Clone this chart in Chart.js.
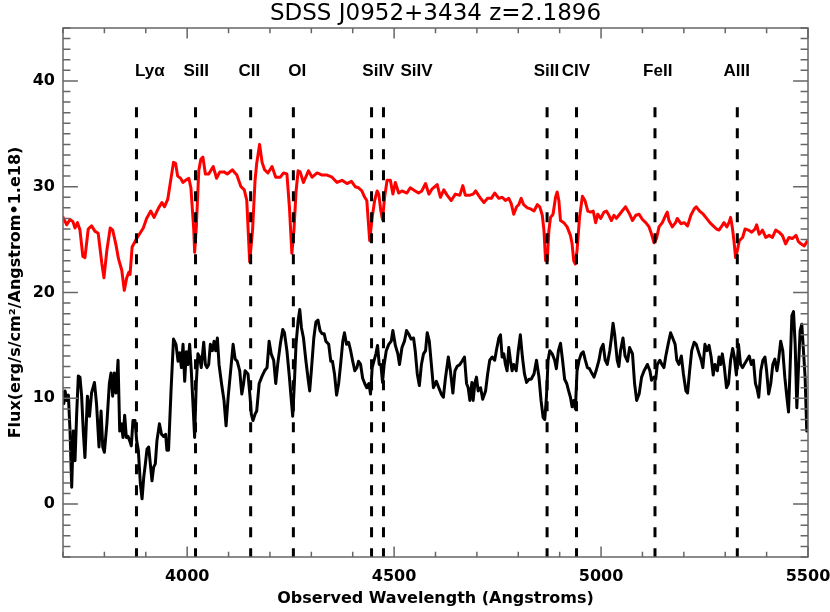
<!DOCTYPE html>
<html>
<head>
<meta charset="utf-8">
<script src="https://cdn.jsdelivr.net/npm/chart.js@4.4.0/dist/chart.umd.min.js"></script>
<style>
  html, body { margin: 0; padding: 0; background: #fff; }
  #wrap { width: 830px; height: 612px; }
</style>
</head>
<body>
<div id="wrap"><canvas id="spectrum-chart"></canvas></div>
<script>
// Espectro superior (rojo)
const redWave = [3699,3709,3717,3724,3729,3735,3741,3748,3753,3761,3769,3777,3785,3794,3799,3806,3814,3820,3828,3834,3842,3848,3854,3859,3862,3867,3878,3894,3902,3912,3920,3931,3939,3945,3953,3959,3967,3972,3977,3984,3990,3996,4004,4009,4016,4018,4022,4028,4033,4038,4044,4052,4063,4071,4079,4089,4097,4109,4120,4130,4138,4144,4151,4158,4164,4168,4175,4181,4187,4195,4205,4214,4225,4233,4241,4247,4253,4258,4263,4268,4273,4281,4293,4302,4314,4326,4338,4350,4362,4374,4386,4397,4406,4414,4422,4429,4434,4441,4447,4453,4459,4463,4468,4472,4477,4483,4491,4497,4503,4511,4519,4531,4539,4551,4559,4567,4576,4584,4592,4604,4612,4620,4628,4638,4648,4659,4666,4672,4683,4691,4697,4707,4717,4726,4735,4743,4753,4761,4769,4777,4783,4789,4796,4801,4807,4813,4822,4830,4838,4846,4852,4858,4862,4866,4870,4874,4878,4884,4890,4894,4898,4902,4910,4918,4926,4930,4934,4938,4942,4948,4955,4961,4968,4975,4981,4987,4992,4999,5007,5013,5019,5025,5031,5037,5043,5051,5059,5068,5076,5084,5092,5100,5108,5116,5122,5128,5134,5140,5148,5156,5160,5164,5172,5180,5184,5193,5201,5209,5217,5225,5230,5238,5247,5255,5263,5271,5279,5285,5292,5297,5304,5309,5313,5317,5321,5325,5330,5334,5342,5348,5356,5364,5372,5376,5382,5390,5398,5406,5414,5422,5430,5438,5446,5454,5462,5471,5477,5483,5491,5499];
const redFlux = [27.2,26.4,26.9,26.7,26.1,26.6,25.9,23.4,23.3,26.0,26.3,25.8,25.6,22.7,21.4,24.0,26.1,25.9,24.5,23.2,22.1,20.2,21.4,21.9,21.7,24.3,25.1,26.1,27.0,27.7,27.1,28.0,28.5,28.1,28.8,30.3,32.3,32.2,31.0,30.8,30.4,30.6,30.8,29.9,25.9,23.8,26.1,31.5,32.6,32.8,31.2,31.2,31.9,30.8,31.4,31.4,31.2,31.6,31.1,30.0,29.7,28.7,22.9,25.9,30.6,32.2,34.0,32.3,31.6,31.3,31.9,30.9,30.9,31.3,31.2,28.1,23.7,25.9,29.5,31.5,31.4,30.4,31.5,30.9,31.3,31.1,31.1,30.9,30.4,30.6,30.3,30.5,30.0,29.9,29.6,29.0,28.7,24.9,27.1,28.7,29.6,29.3,27.7,26.9,29.0,30.6,30.6,29.3,30.4,29.4,29.6,29.4,29.9,29.6,29.4,29.6,30.3,29.3,29.8,30.2,29.0,29.7,29.2,28.7,29.3,29.2,30.1,29.2,29.2,29.3,29.6,29.0,28.5,28.9,28.9,29.4,28.9,29.0,28.7,28.9,28.4,27.4,28.1,28.3,28.9,28.3,28.0,27.9,27.7,28.3,28.1,27.3,25.9,23.0,23.0,25.9,27.1,27.4,29.0,29.5,28.7,26.8,26.6,26.2,25.4,24.6,23.0,22.7,24.0,27.1,29.1,28.7,27.7,27.6,27.7,26.6,27.4,27.0,27.6,27.7,27.3,26.8,27.3,27.0,27.3,27.7,28.1,27.5,26.8,27.3,27.4,26.9,26.6,26.2,25.5,24.7,25.1,26.2,26.6,27.3,27.6,26.8,26.2,26.6,27.0,26.5,26.6,26.3,27.3,27.9,28.1,27.7,27.4,27.0,26.6,26.3,26.0,25.9,26.3,26.6,26.2,26.6,27.1,26.2,24.9,23.3,24.1,24.9,25.2,26.0,25.9,25.7,26.0,26.4,25.5,25.9,25.2,25.4,25.2,25.9,25.7,25.4,24.6,25.2,25.1,25.4,24.8,24.6,24.4,24.9];

// Espectro inferior (negro)
const blackWave = [3699,3702,3705,3709,3713,3717,3721,3725,3729,3733,3737,3741,3745,3749,3753,3759,3764,3769,3776,3781,3787,3792,3796,3800,3806,3812,3816,3820,3824,3828,3833,3837,3841,3845,3849,3853,3857,3861,3865,3869,3874,3878,3882,3887,3891,3895,3899,3903,3907,3911,3915,3919,3923,3927,3933,3938,3943,3948,3951,3955,3961,3967,3973,3978,3982,3986,3990,3994,3998,4002,4006,4010,4014,4018,4022,4026,4030,4034,4040,4044,4048,4052,4056,4061,4065,4069,4073,4077,4083,4089,4094,4099,4105,4111,4116,4121,4127,4132,4136,4140,4147,4152,4155,4159,4164,4168,4174,4181,4187,4193,4198,4203,4209,4214,4219,4225,4231,4235,4241,4247,4251,4255,4259,4263,4268,4272,4276,4281,4287,4292,4296,4300,4306,4311,4316,4321,4326,4331,4335,4342,4347,4351,4356,4361,4366,4371,4376,4380,4385,4390,4395,4400,4405,4410,4414,4419,4424,4429,4434,4439,4443,4447,4451,4456,4460,4464,4468,4472,4476,4481,4487,4493,4497,4503,4509,4513,4519,4525,4530,4535,4541,4547,4551,4556,4561,4566,4571,4576,4580,4585,4590,4595,4602,4608,4614,4619,4624,4631,4636,4642,4647,4652,4659,4664,4670,4675,4679,4683,4688,4691,4695,4699,4703,4709,4714,4721,4726,4731,4737,4743,4747,4753,4757,4761,4765,4769,4773,4777,4781,4785,4789,4795,4800,4805,4810,4815,4820,4826,4831,4838,4844,4850,4855,4860,4864,4868,4872,4876,4882,4888,4892,4897,4902,4907,4912,4917,4921,4926,4930,4934,4938,4942,4947,4952,4957,4962,4967,4972,4976,4983,4988,4995,5000,5005,5010,5015,5021,5025,5029,5033,5039,5043,5047,5053,5058,5064,5069,5076,5081,5086,5092,5098,5104,5112,5118,5122,5128,5132,5136,5142,5147,5152,5156,5162,5168,5174,5179,5183,5188,5194,5199,5205,5209,5214,5219,5225,5230,5237,5242,5246,5251,5256,5261,5266,5271,5275,5281,5285,5289,5293,5298,5303,5308,5313,5318,5322,5327,5332,5337,5342,5346,5352,5358,5363,5368,5373,5377,5381,5386,5391,5396,5400,5405,5410,5415,5420,5425,5429,5434,5439,5444,5449,5453,5457,5461,5465,5469,5473,5477,5481,5485,5489,5493,5497,5499];
const blackFlux = [10.7,9.5,10.7,9.8,10.3,6.9,1.6,6.9,4.1,8.5,12.1,12.0,10.2,6.9,4.4,10.2,8.3,10.5,11.5,9.5,5.4,8.8,5.4,4.9,7.6,11.4,12.4,10.2,12.4,10.5,13.6,6.9,7.6,6.3,8.4,6.3,6.4,6.0,5.5,7.9,7.9,6.0,5.1,1.9,0.5,2.5,3.8,5.2,5.4,3.8,2.2,3.5,3.8,6.0,7.6,6.6,6.4,6.6,5.1,5.1,10.7,15.6,15.1,13.5,14.3,12.9,15.1,11.6,14.4,13.2,15.1,12.6,9.5,6.3,11.4,14.2,13.9,12.9,15.3,13.2,12.9,13.2,15.1,14.5,15.4,14.5,15.7,13.2,11.4,9.8,7.4,10.1,12.6,15.1,13.7,13.5,12.6,10.4,11.3,12.6,12.3,10.1,8.5,7.9,8.5,8.8,11.4,12.1,12.6,12.9,15.4,14.2,13.6,11.4,13.3,15.1,16.5,16.2,14.5,12.0,10.1,8.3,11.4,15.1,17.3,18.4,16.7,15.7,13.5,11.9,10.7,12.6,15.7,17.2,17.4,16.4,16.1,16.1,15.4,15.1,13.5,13.5,12.3,10.3,11.4,13.3,15.4,16.2,15.1,15.3,14.5,13.5,12.6,12.9,13.5,13.2,11.9,11.4,11.0,11.4,10.4,12.9,13.5,14.2,15.0,13.2,13.2,11.5,13.2,14.5,15.1,15.4,16.4,15.0,14.2,13.2,14.8,15.4,16.4,16.1,15.6,15.7,14.5,12.3,11.2,13.2,14.2,14.5,16.2,15.4,13.2,11.0,11.6,11.0,10.4,10.1,11.9,13.9,12.6,10.5,12.6,13.0,13.2,13.5,13.9,11.4,11.0,9.8,11.5,9.8,11.4,12.0,10.7,11.0,9.9,10.7,12.3,13.6,13.9,13.6,14.5,15.7,16.0,13.9,14.2,13.2,12.6,14.8,13.6,12.6,13.2,12.6,14.5,16.0,13.9,12.3,11.5,11.8,11.8,12.3,13.6,12.0,9.8,8.2,8.0,10.1,13.6,14.5,14.2,13.6,12.8,14.5,15.2,13.6,11.8,11.4,10.8,10.1,9.2,9.8,9.0,12.6,13.6,14.2,14.4,13.6,12.9,12.8,12.5,12.0,12.6,13.6,14.7,15.1,13.6,13.2,14.5,15.7,17.1,16.0,13.6,13.0,14.5,15.7,14.0,13.5,14.8,14.2,11.4,9.8,10.4,12.0,12.6,13.2,12.6,11.7,12.0,11.8,13.2,13.6,13.2,12.9,13.9,15.1,16.2,15.6,15.1,13.6,13.2,14.0,12.3,10.7,10.5,12.6,14.5,15.3,15.1,14.2,13.6,12.9,15.1,14.5,15.0,13.9,12.2,13.2,12.6,13.9,13.2,14.2,12.9,11.0,11.4,13.6,14.7,13.9,12.2,15.1,13.2,12.9,13.2,13.6,14.0,13.2,13.6,11.4,10.9,10.1,12.6,13.6,13.9,12.6,10.4,11.4,13.2,13.7,12.6,13.6,15.4,14.5,12.0,10.1,8.7,13.2,17.8,18.2,15.1,9.1,12.9,16.4,17.0,14.5,12.0,6.9,9.1];

// Líneas de absorción marcadas
const lineNames = ['Lyα', 'SiII', 'CII', 'OI', 'SiIV', 'SiIV', 'SiII', 'CIV', 'FeII', 'AlII'];
const lineWave = [3877.5, 4020.2, 4153.4, 4256.6, 4445.5, 4474.3, 4869.6, 4940.7, 5130.3, 5329.2];
const labelWave = [3910, 4022, 4150, 4266, 4462, 4554, 4868, 4939, 5137, 5328];
const labelFlux = 40.9;
const lineTop = 37.5;

const FONT = '"DejaVu Sans", sans-serif';
const LABEL_FONT = 'bold 17px "Liberation Sans", Arial, sans-serif';

// Caja estilo IDL: ejes en los cuatro lados con marcas hacia dentro, y etiquetas de líneas
const boxPlugin = {
    id: 'idlBox',
    afterDatasetsDraw(chart) {
        const { ctx, chartArea: a, scales: { x, y } } = chart;
        const w = a.right - a.left;
        const h = a.bottom - a.top;
        ctx.save();
        ctx.strokeStyle = '#666';
        ctx.lineWidth = 1.5;
        ctx.strokeRect(a.left, a.top, w, h);

        ctx.beginPath();
        x.ticks.forEach(t => {
            const px = x.getPixelForValue(t.value);
            const len = (t.value % 500 === 0 ? 0.02 : 0.01) * h;
            ctx.moveTo(px, a.bottom); ctx.lineTo(px, a.bottom - len);
            ctx.moveTo(px, a.top); ctx.lineTo(px, a.top + len);
        });
        y.ticks.forEach(t => {
            const py = y.getPixelForValue(t.value);
            const len = (t.value % 10 === 0 ? 0.02 : 0.01) * w;
            ctx.moveTo(a.left, py); ctx.lineTo(a.left + len, py);
            ctx.moveTo(a.right, py); ctx.lineTo(a.right - len, py);
        });
        ctx.stroke();

        ctx.fillStyle = '#000';
        ctx.font = LABEL_FONT;
        ctx.textAlign = 'center';
        ctx.textBaseline = 'middle';
        lineNames.forEach((name, i) => {
            ctx.fillText(name, x.getPixelForValue(labelWave[i]), y.getPixelForValue(labelFlux));
        });
        ctx.restore();
    }
};

function generarGrafica() {
    const ctx = document.getElementById('spectrum-chart').getContext('2d');

    const datasets = [
        {
            data: redWave.map((w, i) => ({ x: w, y: redFlux[i] })),
            borderColor: '#ff0000',
            borderWidth: 3,
            order: 1
        },
        {
            data: blackWave.map((w, i) => ({ x: w, y: blackFlux[i] })),
            borderColor: '#000000',
            borderWidth: 3,
            order: 1
        }
    ];

    // Líneas verticales discontinuas
    lineWave.forEach(w => {
        datasets.push({
            data: [{ x: w, y: lineTop }, { x: w, y: -5 }],
            borderColor: '#000000',
            borderWidth: 3,
            borderDash: [10, 11],
            order: 0
        });
    });

    new Chart(ctx, {
        type: 'line',
        data: { datasets: datasets },
        options: {
            responsive: true,
            maintainAspectRatio: false,
            animation: false,
            elements: {
                point: { radius: 0 },
                line: { tension: 0, borderJoinStyle: 'round', fill: false }
            },
            layout: { padding: { top: 0, right: 22, bottom: 0, left: 0 } },
            plugins: {
                legend: { display: false },
                tooltip: { enabled: false },
                title: {
                    display: true,
                    fullSize: false,
                    text: 'SDSS J0952+3434 z=2.1896',
                    color: '#000',
                    font: { family: FONT, size: 23, weight: 'normal' },
                    padding: { top: 0, bottom: 0.4 }
                }
            },
            scales: {
                x: {
                    type: 'linear',
                    min: 3700,
                    max: 5500,
                    grid: { display: false, drawTicks: false },
                    border: { display: false },
                    ticks: {
                        stepSize: 100,
                        autoSkip: false,
                        maxRotation: 0,
                        padding: 10,
                        color: '#000',
                        font: { family: FONT, size: 16, weight: 'bold' },
                        callback: v => (v % 500 === 0 ? String(v) : '')
                    },
                    title: {
                        display: true,
                        text: 'Observed Wavelength (Angstroms)',
                        color: '#000',
                        font: { family: FONT, size: 16, weight: 'bold' },
                        padding: { top: 0, bottom: 4 }
                    },
                    afterFit: scale => {
                        scale.height = 55;
                        scale.paddingLeft = 0;
                        scale.paddingRight = 0;
                    }
                },
                y: {
                    min: -5,
                    max: 45,
                    grid: { display: false, drawTicks: false },
                    border: { display: false },
                    ticks: {
                        stepSize: 1,
                        autoSkip: false,
                        padding: 8,
                        color: '#000',
                        font: { family: FONT, size: 16, weight: 'bold' },
                        callback: v => (v % 10 === 0 ? String(v) : '')
                    },
                    title: {
                        display: true,
                        text: 'Flux(erg/s/cm²/Angstrom•1.e18)',
                        color: '#000',
                        font: { family: FONT, size: 16, weight: 'bold' },
                        padding: { top: 6, bottom: 0 }
                    },
                    afterFit: scale => {
                        scale.width = 63;
                        scale.paddingTop = 0;
                        scale.paddingBottom = 0;
                    }
                }
            }
        },
        plugins: [boxPlugin]
    });
}

generarGrafica();
</script>
</body>
</html>
